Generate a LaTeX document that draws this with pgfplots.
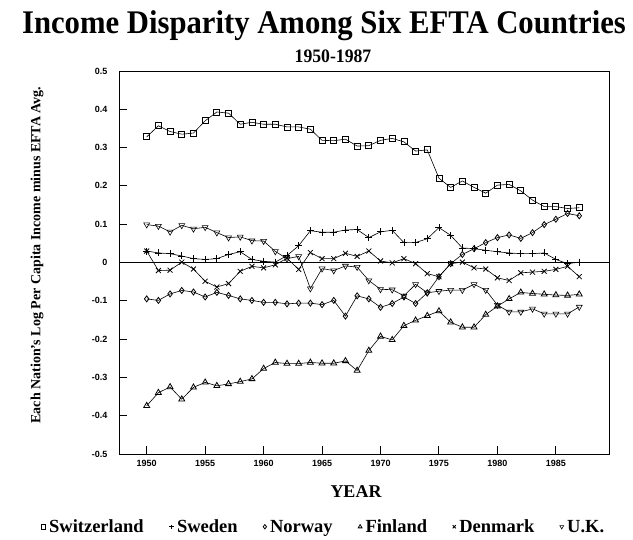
\documentclass[border=0pt]{standalone}
\usepackage{fontspec}
\setmainfont{Liberation Serif}
\setsansfont{Liberation Sans}
\newfontfamily\titlefont{Liberation Serif}[FakeStretch=0.93]
\usepackage{pgfplots}
\usepackage{pgfplotstable}
\pgfplotsset{compat=1.18}

% deviation of log per capita income from EFTA average
\pgfplotstableread{
year sui   swe    nor    fin    den    uk
1950 0.328 0.030 -0.095 -0.374  0.030  0.099
1951 0.357 0.025 -0.099 -0.340 -0.021  0.095
1952 0.342 0.023 -0.082 -0.325 -0.020  0.080
1953 0.335 0.017 -0.073 -0.357  0.001  0.097
1954 0.338 0.010 -0.077 -0.326 -0.017  0.088
1955 0.370 0.008 -0.090 -0.313 -0.049  0.092
1956 0.393 0.010 -0.078 -0.322 -0.064  0.078
1957 0.390 0.021 -0.086 -0.317 -0.055  0.065
1958 0.361 0.028 -0.095 -0.311 -0.023  0.067
1959 0.366 0.008 -0.099 -0.304 -0.010  0.057
1960 0.361 0.003 -0.104 -0.277 -0.014  0.056
1961 0.361 0.001 -0.104 -0.261 -0.006  0.029
1962 0.354 0.018 -0.108 -0.264  0.011  0.010
1963 0.354 0.044 -0.106 -0.264 -0.018  0.016
1964 0.348 0.083 -0.106 -0.261  0.026 -0.068
1965 0.319 0.079 -0.110 -0.263  0.010 -0.016
1966 0.318 0.079 -0.099 -0.263  0.010 -0.021
1967 0.322 0.085 -0.140 -0.257  0.024 -0.009
1968 0.304 0.086 -0.087 -0.282  0.016 -0.012
1969 0.305 0.065 -0.095 -0.230  0.030 -0.047
1970 0.319 0.080 -0.117 -0.193  0.004 -0.070
1971 0.324 0.084 -0.107 -0.202 -0.001 -0.071
1972 0.315 0.052 -0.090 -0.165  0.010 -0.087
1973 0.291 0.052 -0.107 -0.151 -0.003 -0.057
1974 0.294 0.062 -0.079 -0.139 -0.029 -0.079
1975 0.220 0.091 -0.037 -0.127 -0.037 -0.075
1976 0.196 0.071 -0.003 -0.156 -0.003 -0.072
1977 0.213 0.038  0.021 -0.169  0.001 -0.072
1978 0.196 0.036  0.036 -0.169 -0.014 -0.057
1979 0.181 0.032  0.052 -0.136 -0.017 -0.072
1980 0.202 0.028  0.065 -0.114 -0.040 -0.111
1981 0.204 0.025  0.072 -0.095 -0.047 -0.129
1982 0.187 0.023  0.063 -0.078 -0.027 -0.129
1983 0.163 0.023  0.078 -0.081 -0.025 -0.121
1984 0.146 0.025  0.099 -0.083 -0.023 -0.134
1985 0.146 0.008  0.113 -0.085 -0.018 -0.134
1986 0.141 -0.003 0.128 -0.086 -0.010 -0.134
1987 0.143 0.001  0.122 -0.083 -0.037 -0.116
}\efta

\begin{document}
\begin{tikzpicture}
\useasboundingbox (0,0) rectangle (633bp,540bp);

\node[anchor=base, font=\titlefont\bfseries\fontsize{33bp}{36bp}\selectfont]
  at (324bp,506bp) {Income Disparity Among Six EFTA Countries};
\node[anchor=base, font=\titlefont\bfseries\fontsize{19bp}{21bp}\selectfont]
  at (333bp,477bp) {1950-1987};
\node[anchor=base, font=\bfseries\fontsize{18bp}{20bp}\selectfont]
  at (356bp,42bp) {YEAR};
\node[rotate=90, font=\bfseries\fontsize{14bp}{16bp}\selectfont]
  at (37bp,285bp) {Each Nation's Log Per Capita Income minus EFTA Avg.};

\begin{axis}[
  at={(119bp,86bp)}, anchor=south west,
  scale only axis, width=490.3bp, height=383bp,
  xmin=1947.63, xmax=1989.57, ymin=-0.5, ymax=0.5,
  xtick={1950,1955,1960,1965,1970,1975,1980,1985},
  ytick={-0.5,-0.4,-0.3,-0.2,-0.1,0,0.1,0.2,0.3,0.4,0.5},
  tick pos=left, tick align=inside,
  major tick length=8bp,
  tick style={black, line width=1bp},
  axis line style={line width=1bp},
  /pgf/number format/assume math mode=true,
  /pgf/number format/1000 sep={},
  ticklabel style={font=\sffamily\bfseries\fontsize{9bp}{10bp}\selectfont},
  yticklabel style={/pgf/number format/fixed, /pgf/number format/precision=1, xshift=-8bp},
  xticklabel style={yshift=-3bp},
  extra y ticks={0}, extra y tick labels={},
  extra y tick style={grid=major, major grid style={black, line width=0.9bp}},
  every axis plot/.append style={black, line width=0.6bp,
    mark options={solid, fill=white, line width=0.8bp}},
  legend columns=6,
  legend style={at={(0.419,-0.19)}, anchor=center, draw=none, fill=none,
    font=\bfseries\fontsize{18.5bp}{20bp}\selectfont,
    nodes={inner sep=3.5bp},
    /tikz/every even column/.append style={column sep=22bp}},
  legend image code/.code={\draw[#1, mark size=2.2bp] plot coordinates {(0bp,0bp)};},
]
\addplot[mark=square, mark size=3bp] table[x=year, y=sui] {\efta};
\addplot[mark=+, mark size=3.5bp] table[x=year, y=swe] {\efta};
\addplot[mark=diamond, mark size=3bp] table[x=year, y=nor] {\efta};
\addplot[mark=triangle, mark size=3.4bp] table[x=year, y=fin] {\efta};
\addplot[mark=x, mark size=3.5bp] table[x=year, y=den] {\efta};
\addplot[mark=triangle, mark size=3.4bp, mark options={rotate=180}] table[x=year, y=uk] {\efta};
\legend{Switzerland, Sweden, Norway, Finland, Denmark, U.K.}
\end{axis}
\end{tikzpicture}
\end{document}
